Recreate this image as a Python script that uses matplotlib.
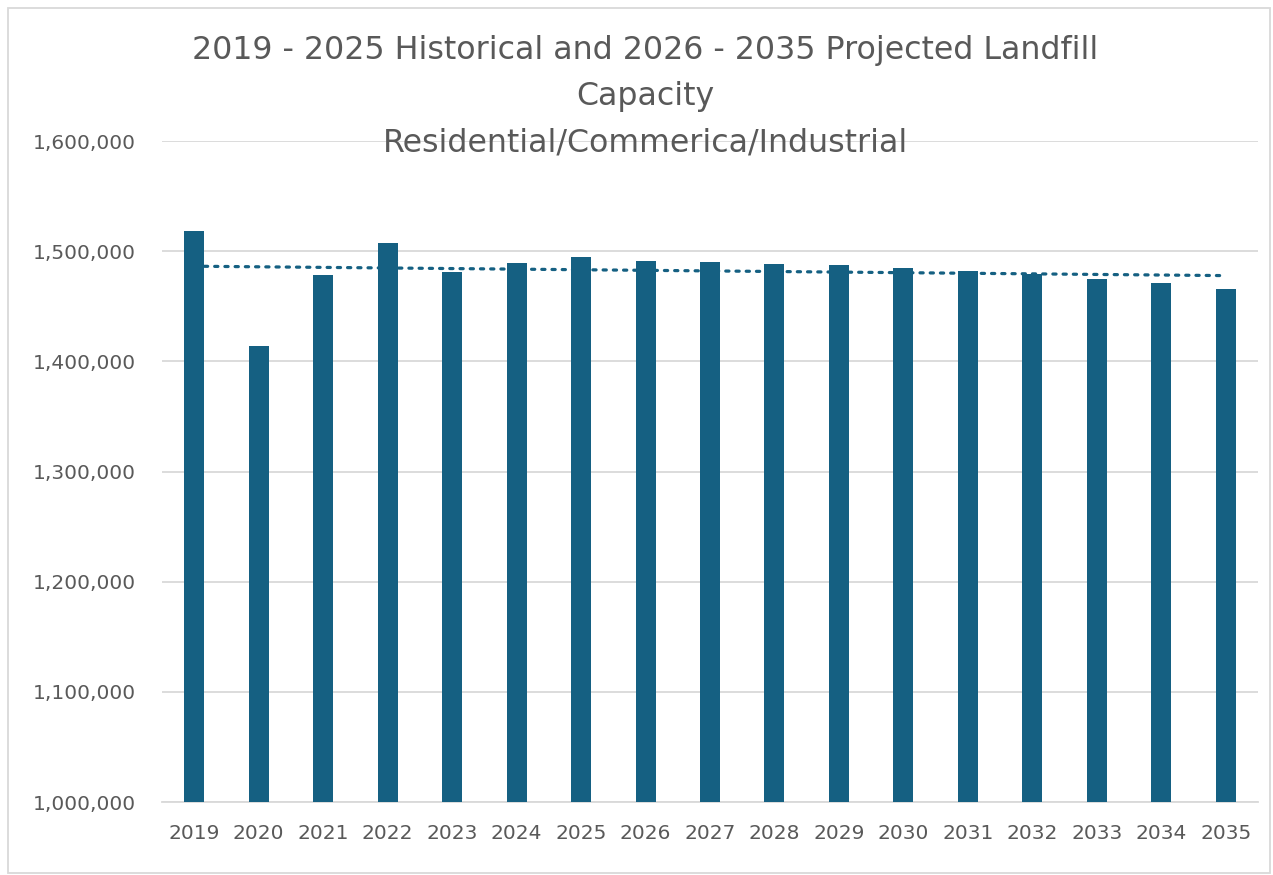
import numpy as np
import matplotlib.pyplot as plt
from matplotlib.patches import Rectangle
from matplotlib.ticker import FuncFormatter

# years and landfill capacity (tons)
years = ["2019", "2020", "2021", "2022", "2023", "2024", "2025", "2026", "2027",
         "2028", "2029", "2030", "2031", "2032", "2033", "2034", "2035"]
capacity = [1518000, 1414000, 1478500, 1507500, 1481000, 1489000, 1494500, 1491200,
            1490000, 1488800, 1487000, 1484300, 1481600, 1479100, 1474600, 1470700,
            1465500]

bar_color = "#156082"
text_color = "#595959"
grid_color = "#d9d9d9"

fig = plt.figure(figsize=(12.73, 8.75), dpi=100)
ax = fig.add_axes([162 / 1273, 73 / 875, 1096 / 1273, 661 / 875])

x = np.arange(len(years))
ax.bar(x, capacity, width=0.31, color=bar_color, zorder=3)

# linear trendline, dotted
coef = np.polyfit(x, capacity, 1)
ax.plot(x, np.polyval(coef, x), color=bar_color, linestyle=(0, (1, 2.2)),
        linewidth=2.3, dash_capstyle="round", zorder=4)

ax.set_xlim(-0.5, len(years) - 0.5)
ax.set_ylim(1000000, 1600000)
ax.set_yticks(np.arange(1000000, 1600001, 100000))
ax.yaxis.set_major_formatter(FuncFormatter(lambda v, p: f"{int(v):,}"))
ax.set_xticks(x)
ax.set_xticklabels(years)
ax.tick_params(axis="both", length=0, labelsize=14.5, labelcolor=text_color)
ax.tick_params(axis="x", pad=16)
ax.tick_params(axis="y", pad=19)
ax.grid(axis="y", color=grid_color, linewidth=1.3, zorder=0)
for s in ["top", "right", "left"]:
    ax.spines[s].set_visible(False)
ax.spines["bottom"].set_color(grid_color)
ax.spines["bottom"].set_linewidth(1.3)

title_lines = ["2019 - 2025 Historical and 2026 - 2035 Projected Landfill",
               "Capacity",
               "Residential/Commerica/Industrial"]
for line, ypix in zip(title_lines, [50, 97, 143]):
    fig.text(0.507, 1 - ypix / 875, line, ha="center", va="center",
             fontsize=22.8, color=text_color)

# chart area border
fig.patches.append(Rectangle((8 / 1273, 2 / 875), 1262 / 1273, 865 / 875,
                             transform=fig.transFigure, fill=False,
                             edgecolor=grid_color, linewidth=1.3))

fig.savefig("out.png", dpi=100)
